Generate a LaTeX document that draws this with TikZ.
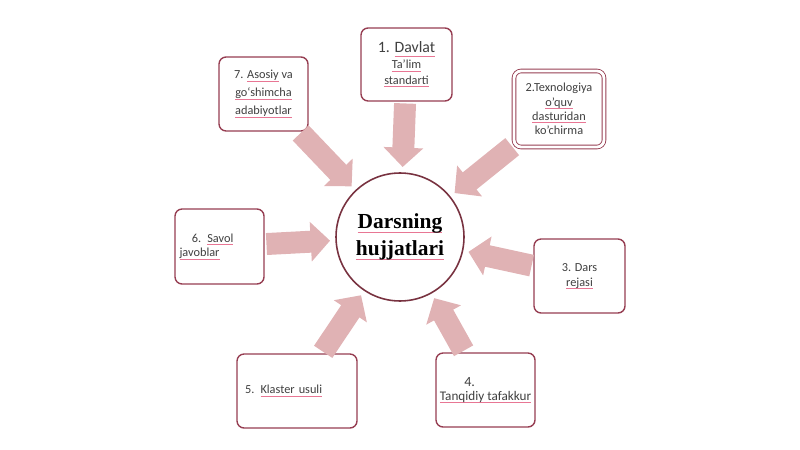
\documentclass[tikz,border=0pt]{standalone}
\usepackage{fontspec}
\setmainfont{Carlito}
\newfontfamily\titlefont{Liberation Serif}
\usetikzlibrary{arrows.meta}
\usetikzlibrary{positioning}

\definecolor{boxline}{RGB}{150,62,82}
\definecolor{hubline}{RGB}{120,50,64}
\definecolor{pilfill}{RGB}{224,178,180}
\definecolor{squig}{RGB}{232,118,148}
% spell-check style underline
\newsavebox{\sqbox}
\newcommand{\sq}[1]{\sbox{\sqbox}{#1}\leavevmode
  \rlap{\textcolor{squig}{\rule[-0.45ex]{\wd\sqbox}{0.4pt}}}\usebox{\sqbox}}

\tikzset{
  box/.style={draw=boxline, line width=0.8pt, rounded corners=4pt, fill=white,
    text=black!75, align=center, inner sep=0pt,
    font=\fontsize{7}{9}\selectfont},
  pil/.style={draw=pilfill, line width=12.5pt,
    -{Triangle[length=11pt,width=22pt]}, shorten >=3pt, shorten <=1pt},
}

\begin{document}
\begin{tikzpicture}[x=0.02cm,y=-0.02cm]
\useasboundingbox (0,0) rectangle (800,449);

\node[box, minimum width=1.82cm, minimum height=1.46cm] (b1) at (406.5,64.5)
  {{\fontsize{9}{9}\selectfont 1. \sq{Davlat}}\\\sq{Ta’lim}\\\sq{standarti}};
\node[box, minimum width=1.78cm, minimum height=1.48cm,
  font=\fontsize{7}{10.2}\selectfont] (b7) at (263.5,94)
  {7. \sq{Asosiy} va\\\sq{go`shimcha}\\\sq{adabiyotlar}};
\node[box, minimum width=1.80cm, minimum height=1.52cm, line width=0.5pt,
  double=white, double distance=1.6pt,
  font=\fontsize{7}{8.2}\selectfont] (b2) at (559,109)
  {2.Texnologiya\\\sq{o’quv}\\\sq{dasturidan}\\ko’chirma};
\node[box, minimum width=1.78cm, minimum height=1.50cm, align=left,
  text width=1.60cm, font=\fontsize{7}{8.2}\selectfont] (b6) at (219.5,246.5)
  {\hspace*{7pt}6. \sq{Savol}\\\sq{javoblar}};
\node[box, minimum width=1.82cm, minimum height=1.48cm,
  font=\fontsize{7}{8.6}\selectfont] (b3) at (579.5,276)
  {3. Dars\\\sq{rejasi}};
\node[box, minimum width=2.40cm, minimum height=1.48cm, align=left,
  text width=2.08cm] (b5) at (297,391)
  {5. \sq{Klaster usuli}};
\node[box, minimum width=1.98cm, minimum height=1.48cm,
  font=\fontsize{7.5}{8}\selectfont] (b4) at (485.5,390)
  {{\fontsize{8}{8}\selectfont 4.}\hspace*{18pt}\\\sq{Tanqidiy tafakkur}};

\node[circle, draw=hubline, line width=0.9pt, minimum size=2.56cm, align=center,
  font=\titlefont\bfseries\fontsize{12.2}{15.3}\selectfont] (hub) at (400,237)
  {\sq{Darsning}\\\sq{hujjatlari}};

\draw[pil] (b1) -- (hub);
\draw[pil] (b7) -- (hub);
\draw[pil] (b2) -- (hub);
\draw[pil] (b6) -- (hub);
\draw[pil] (b3) -- (hub);
\draw[pil] (b5) -- (hub);
\draw[pil] (b4) -- (hub);

\end{tikzpicture}
\end{document}
